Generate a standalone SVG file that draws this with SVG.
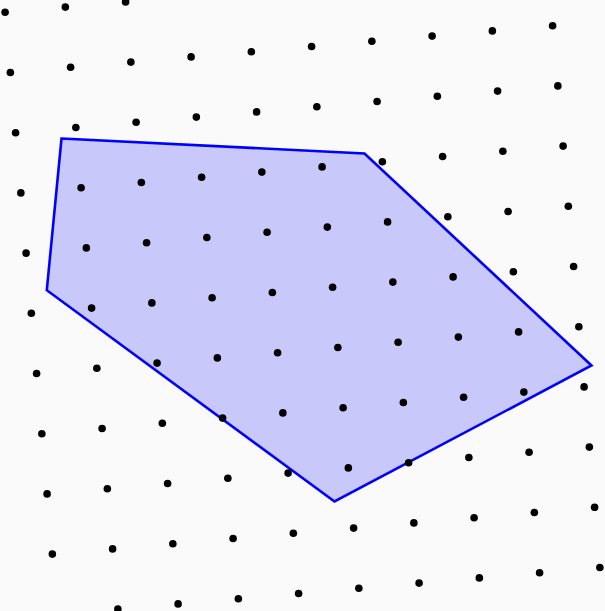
<svg xmlns="http://www.w3.org/2000/svg" width="605" height="611" viewBox="0 0 605 611">
<style>
.bg{fill:#fafafa}
.poly{fill:#c8c8fa;stroke:#0000ff;stroke-width:2.6;stroke-linejoin:miter}
.dots circle{fill:#000}
</style>
<rect class="bg" x="0" y="0" width="605" height="611"/>
<g id="region">
<polygon class="poly" points="61.5,138.5 364.5,153.5 591.5,365.5 334.5,501.5 46.8,290.2"/>
</g>
<g id="lattice" class="dots">
<circle cx="5.1" cy="12.3" r="3.8"/><circle cx="65.35" cy="7.1" r="3.8"/><circle cx="125.6" cy="1.9" r="3.8"/>
<circle cx="10.35" cy="72.5" r="3.8"/><circle cx="70.6" cy="67.3" r="3.8"/><circle cx="130.85" cy="62.1" r="3.8"/><circle cx="191.1" cy="56.9" r="3.8"/><circle cx="251.35" cy="51.7" r="3.8"/><circle cx="311.6" cy="46.5" r="3.8"/><circle cx="371.85" cy="41.3" r="3.8"/><circle cx="432.1" cy="36.1" r="3.8"/><circle cx="492.35" cy="30.9" r="3.8"/><circle cx="552.6" cy="25.7" r="3.8"/>
<circle cx="15.6" cy="132.7" r="3.8"/><circle cx="75.85" cy="127.5" r="3.8"/><circle cx="136.1" cy="122.3" r="3.8"/><circle cx="196.35" cy="117.1" r="3.8"/><circle cx="256.6" cy="111.9" r="3.8"/><circle cx="316.85" cy="106.7" r="3.8"/><circle cx="377.1" cy="101.5" r="3.8"/><circle cx="437.35" cy="96.3" r="3.8"/><circle cx="497.6" cy="91.1" r="3.8"/><circle cx="557.85" cy="85.9" r="3.8"/>
<circle cx="20.85" cy="192.9" r="3.8"/><circle cx="81.1" cy="187.7" r="3.8"/><circle cx="141.35" cy="182.5" r="3.8"/><circle cx="201.6" cy="177.3" r="3.8"/><circle cx="261.85" cy="172.1" r="3.8"/><circle cx="322.1" cy="166.9" r="3.8"/><circle cx="382.35" cy="161.7" r="3.8"/><circle cx="442.6" cy="156.5" r="3.8"/><circle cx="502.85" cy="151.3" r="3.8"/><circle cx="563.1" cy="146.1" r="3.8"/>
<circle cx="26.1" cy="253.1" r="3.8"/><circle cx="86.35" cy="247.9" r="3.8"/><circle cx="146.6" cy="242.7" r="3.8"/><circle cx="206.85" cy="237.5" r="3.8"/><circle cx="267.1" cy="232.3" r="3.8"/><circle cx="327.35" cy="227.1" r="3.8"/><circle cx="387.6" cy="221.9" r="3.8"/><circle cx="447.85" cy="216.7" r="3.8"/><circle cx="508.1" cy="211.5" r="3.8"/><circle cx="568.35" cy="206.3" r="3.8"/>
<circle cx="31.35" cy="313.3" r="3.8"/><circle cx="91.6" cy="308.1" r="3.8"/><circle cx="151.85" cy="302.9" r="3.8"/><circle cx="212.1" cy="297.7" r="3.8"/><circle cx="272.35" cy="292.5" r="3.8"/><circle cx="332.6" cy="287.3" r="3.8"/><circle cx="392.85" cy="282.1" r="3.8"/><circle cx="453.1" cy="276.9" r="3.8"/><circle cx="513.35" cy="271.7" r="3.8"/><circle cx="573.6" cy="266.5" r="3.8"/>
<circle cx="36.6" cy="373.5" r="3.8"/><circle cx="96.85" cy="368.3" r="3.8"/><circle cx="157.1" cy="363.1" r="3.8"/><circle cx="217.35" cy="357.9" r="3.8"/><circle cx="277.6" cy="352.7" r="3.8"/><circle cx="337.85" cy="347.5" r="3.8"/><circle cx="398.1" cy="342.3" r="3.8"/><circle cx="458.35" cy="337.1" r="3.8"/><circle cx="518.6" cy="331.9" r="3.8"/><circle cx="578.85" cy="326.7" r="3.8"/>
<circle cx="41.85" cy="433.7" r="3.8"/><circle cx="102.1" cy="428.5" r="3.8"/><circle cx="162.35" cy="423.3" r="3.8"/><circle cx="222.6" cy="418.1" r="3.8"/><circle cx="282.85" cy="412.9" r="3.8"/><circle cx="343.1" cy="407.7" r="3.8"/><circle cx="403.35" cy="402.5" r="3.8"/><circle cx="463.6" cy="397.3" r="3.8"/><circle cx="523.85" cy="392.1" r="3.8"/><circle cx="584.1" cy="386.9" r="3.8"/>
<circle cx="47.1" cy="493.9" r="3.8"/><circle cx="107.35" cy="488.7" r="3.8"/><circle cx="167.6" cy="483.5" r="3.8"/><circle cx="227.85" cy="478.3" r="3.8"/><circle cx="288.1" cy="473.1" r="3.8"/><circle cx="348.35" cy="467.9" r="3.8"/><circle cx="408.6" cy="462.7" r="3.8"/><circle cx="468.85" cy="457.5" r="3.8"/><circle cx="529.1" cy="452.3" r="3.8"/><circle cx="589.35" cy="447.1" r="3.8"/>
<circle cx="52.35" cy="554.1" r="3.8"/><circle cx="112.6" cy="548.9" r="3.8"/><circle cx="172.85" cy="543.7" r="3.8"/><circle cx="233.1" cy="538.5" r="3.8"/><circle cx="293.35" cy="533.3" r="3.8"/><circle cx="353.6" cy="528.1" r="3.8"/><circle cx="413.85" cy="522.9" r="3.8"/><circle cx="474.1" cy="517.7" r="3.8"/><circle cx="534.35" cy="512.5" r="3.8"/><circle cx="594.6" cy="507.3" r="3.8"/>
<circle cx="117.85" cy="609.1" r="3.8"/><circle cx="178.1" cy="603.9" r="3.8"/><circle cx="238.35" cy="598.7" r="3.8"/><circle cx="298.6" cy="593.5" r="3.8"/><circle cx="358.85" cy="588.3" r="3.8"/><circle cx="419.1" cy="583.1" r="3.8"/><circle cx="479.35" cy="577.9" r="3.8"/><circle cx="539.6" cy="572.7" r="3.8"/><circle cx="599.85" cy="567.5" r="3.8"/>
</g>
</svg>
